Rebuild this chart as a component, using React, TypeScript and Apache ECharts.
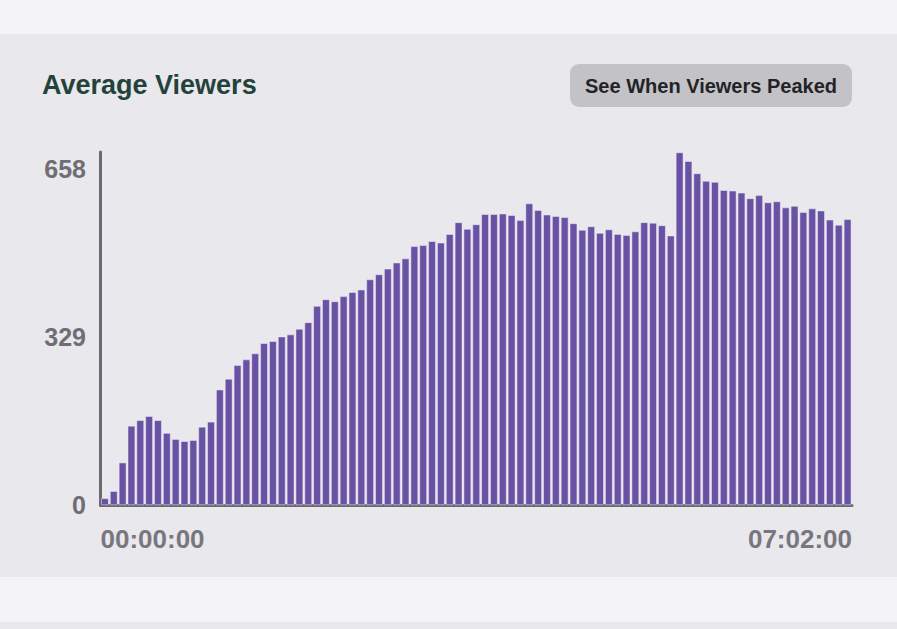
import React, { useEffect, useRef } from "react";
import * as echarts from "echarts";

// Average viewers per 5-minute slot (85 slots)
const viewers: number[] = [
  13, 27, 83, 155, 166, 174, 166, 141, 129, 125,
  127, 153, 163, 226, 247, 274, 285, 297, 317, 321,
  330, 334, 345, 358, 390, 403, 399, 409, 417, 422,
  442, 452, 463, 475, 483, 507, 509, 517, 514, 531,
  554, 541, 550, 570, 570, 571, 568, 558, 591, 578,
  569, 566, 564, 552, 539, 546, 533, 540, 531, 529,
  536, 554, 553, 548, 528, 691, 674, 650, 635, 633,
  617, 616, 612, 601, 607, 593, 595, 583, 586, 574,
  581, 577, 559, 549, 560,
];

const slotMinutes = 5;
const categories: string[] = viewers.map((_, i) => String(i * slotMinutes));

const yTickValues: number[] = [0, 329, 658];
const yMax = 692;
const timeTickMinutes: number[] = [0, 422];
const timeMax = 422;

const fmtTime = (m: number) => {
  const h = Math.floor(m / 60);
  const mm = Math.round(m % 60);
  const p = (n: number) => String(n).padStart(2, "0");
  return `${p(h)}:${p(mm)}:00`;
};

const FONT = '"Liberation Sans", Arial, Helvetica, sans-serif';

export default function App() {
  const ref = useRef<HTMLDivElement>(null);
  useEffect(() => {
    if (!ref.current) return;
    const chart = echarts.init(ref.current, null, { renderer: "svg" });
    const axisLineStyle = { color: "#6b6a70", width: 3 };
    chart.setOption({
      animation: false,
      backgroundColor: "#f4f4f6",
      graphic: [
        { type: "rect", z: -10, shape: { x: 0, y: 34, width: 897, height: 543 }, style: { fill: "#e9e8ed" } },
        { type: "rect", z: -10, shape: { x: 0, y: 622, width: 897, height: 7 }, style: { fill: "#e8e8eb" } },
        {
          type: "text",
          left: 42,
          top: 71,
          style: { text: "Average Viewers", fill: "#23433a", font: `bold 27px ${FONT}` },
        },
        { type: "rect", shape: { x: 570, y: 64, width: 282, height: 43, r: 9 }, style: { fill: "#c3c2c7" } },
        {
          type: "text",
          x: 711,
          y: 86,
          style: {
            text: "See When Viewers Peaked",
            fill: "#232326",
            font: `bold 20px ${FONT}`,
            align: "center",
            verticalAlign: "middle",
          },
        },
      ],
      grid: { left: 100.5, right: 45, top: 152, bottom: 124 },
      xAxis: [
        {
          type: "category",
          data: categories,
          position: "bottom",
          axisLine: { show: true, onZero: false, lineStyle: axisLineStyle },
          axisTick: { show: false },
          axisLabel: { show: false },
          splitLine: { show: false },
        },
        {
          type: "value",
          position: "bottom",
          min: 0,
          max: timeMax,
          axisLine: { show: false, onZero: false },
          axisTick: { show: false },
          splitLine: { show: false },
          axisLabel: {
            customValues: timeTickMinutes,
            formatter: (v: number) => fmtTime(v),
            alignMinLabel: "left",
            alignMaxLabel: "right",
            fontSize: 26,
            fontWeight: "bold",
            fontFamily: FONT,
            color: "#78777d",
            margin: 21,
          },
        },
      ],
      yAxis: {
        type: "value",
        min: 0,
        max: yMax,
        offset: 1.5,
        axisLine: { show: true, lineStyle: axisLineStyle },
        axisTick: { show: false },
        splitLine: { show: false },
        axisLabel: {
          customValues: yTickValues,
          fontSize: 25,
          fontWeight: "bold",
          fontFamily: FONT,
          color: "#6f6e74",
          margin: 13,
        },
      },
      series: [
        {
          type: "bar",
          xAxisIndex: 0,
          data: viewers,
          barCategoryGap: "16%",
          itemStyle: { color: "#6951a3", borderColor: "#f1edf8", borderWidth: 0.5 },
        },
      ],
    });
    return () => chart.dispose();
  }, []);
  return (
    <div
      ref={ref}
      style={{ position: "fixed", left: 0, top: 0, width: 897, height: 629 }}
    />
  );
}
